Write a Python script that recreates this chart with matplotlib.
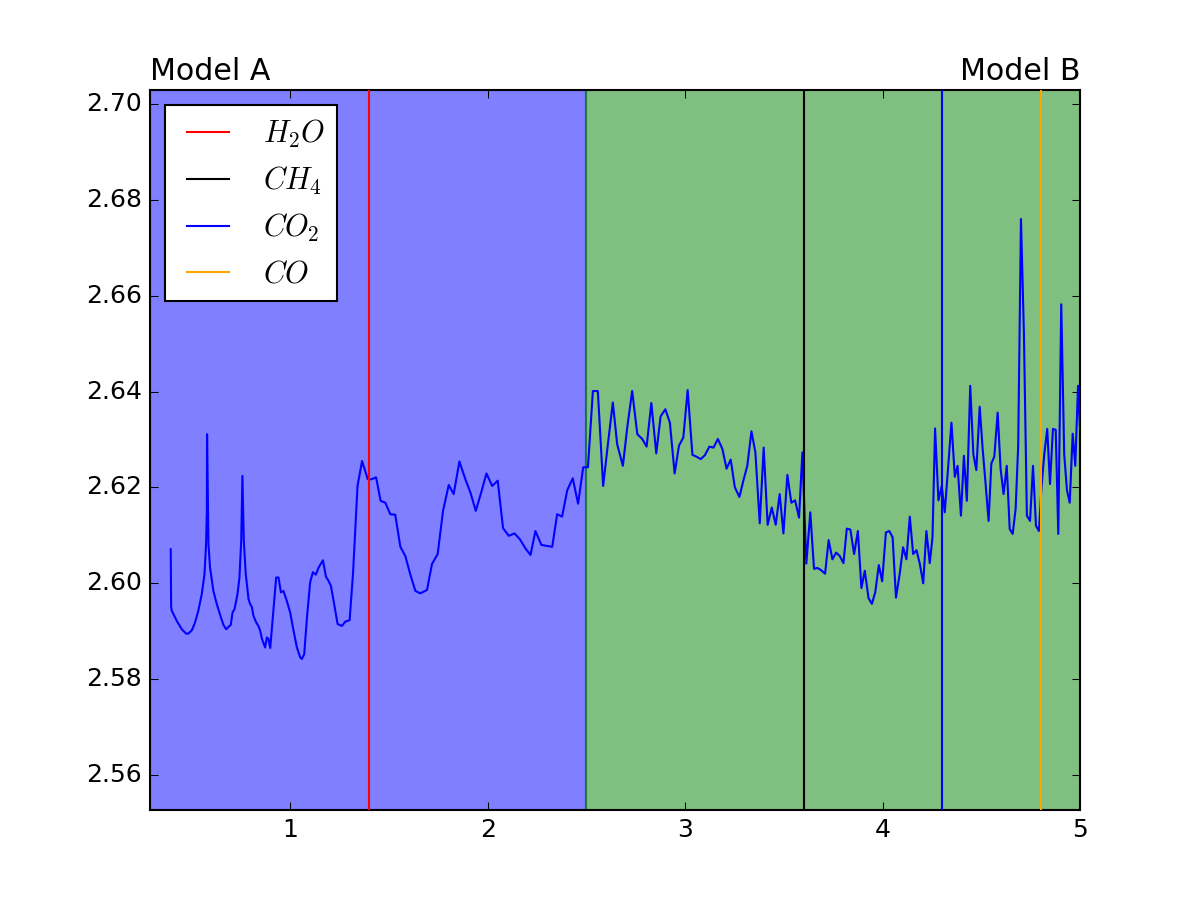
import matplotlib
matplotlib.use("Agg")
import matplotlib.pyplot as plt

plt.style.use('classic')

wavelength = [0.395, 0.397, 0.400, 0.425, 0.451, 0.473, 0.484, 0.502, 0.518, 0.535, 0.552,
              0.566, 0.574, 0.578, 0.579, 0.586, 0.594, 0.611, 0.628, 0.649, 0.662, 0.676,
              0.687, 0.699, 0.708, 0.718, 0.733, 0.743, 0.752, 0.758, 0.765, 0.775, 0.789,
              0.797, 0.806, 0.814, 0.828, 0.839, 0.848, 0.857, 0.873, 0.882, 0.890, 0.899,
              0.929, 0.941, 0.953, 0.966, 0.983, 1.000, 1.017, 1.034, 1.051, 1.059, 1.071,
              1.085, 1.101, 1.115, 1.130, 1.144, 1.166, 1.181, 1.194, 1.206, 1.220, 1.240,
              1.262, 1.279, 1.301, 1.318, 1.341, 1.364, 1.393, 1.412, 1.435, 1.458, 1.482,
              1.507, 1.532, 1.558, 1.583, 1.608, 1.634, 1.659, 1.693, 1.718, 1.747, 1.774,
              1.803, 1.828, 1.857, 1.887, 1.913, 1.940, 1.967, 1.994, 2.023, 2.051, 2.078,
              2.107, 2.136, 2.163, 2.191, 2.217, 2.242, 2.272, 2.301, 2.327, 2.352, 2.377,
              2.403, 2.431, 2.458, 2.484, 2.508, 2.533, 2.558, 2.585, 2.609, 2.634, 2.656,
              2.685, 2.707, 2.732, 2.758, 2.783, 2.805, 2.829, 2.854, 2.876, 2.900, 2.923,
              2.947, 2.969, 2.991, 3.013, 3.037, 3.058, 3.079, 3.100, 3.123, 3.144, 3.166,
              3.189, 3.210, 3.231, 3.252, 3.275, 3.295, 3.315, 3.336, 3.356, 3.378, 3.398,
              3.418, 3.439, 3.459, 3.479, 3.498, 3.518, 3.538, 3.557, 3.577, 3.594, 3.614,
              3.634, 3.653, 3.670, 3.690, 3.709, 3.727, 3.746, 3.765, 3.783, 3.802, 3.819,
              3.837, 3.856, 3.875, 3.893, 3.910, 3.929, 3.946, 3.963, 3.981, 3.998, 4.017,
              4.034, 4.051, 4.068, 4.087, 4.104, 4.121, 4.138, 4.155, 4.172, 4.189, 4.206,
              4.222, 4.239, 4.253, 4.266, 4.283, 4.300, 4.315, 4.332, 4.349, 4.366, 4.380,
              4.397, 4.412, 4.427, 4.444, 4.460, 4.475, 4.492, 4.507, 4.522, 4.537, 4.551,
              4.566, 4.583, 4.598, 4.613, 4.629, 4.644, 4.659, 4.674, 4.687, 4.701, 4.716,
              4.731, 4.747, 4.762, 4.777, 4.792, 4.805, 4.819, 4.834, 4.848, 4.863, 4.877,
              4.890, 4.905, 4.920, 4.934, 4.948, 4.963, 4.976, 4.990, 5.000]

radius = [2.6071, 2.5951, 2.5943, 2.5922, 2.5904, 2.5895, 2.5895, 2.5902, 2.5918, 2.5943, 2.5977,
          2.6019, 2.6082, 2.6151, 2.6311, 2.6082, 2.6033, 2.5984, 2.5957, 2.5929, 2.5913, 2.5904,
          2.5909, 2.5913, 2.5939, 2.5946, 2.5977, 2.6012, 2.6089, 2.6224, 2.6089, 2.6019, 2.5967,
          2.5957, 2.5950, 2.5932, 2.5918, 2.5911, 2.5901, 2.5884, 2.5866, 2.5887, 2.5884, 2.5865,
          2.6012, 2.6012, 2.5981, 2.5984, 2.5963, 2.5939, 2.5901, 2.5866, 2.5845, 2.5842, 2.5852,
          2.5929, 2.6002, 2.6023, 2.6018, 2.6033, 2.6048, 2.6014, 2.6005, 2.5995, 2.5963, 2.5915,
          2.5911, 2.5920, 2.5923, 2.6019, 2.6203, 2.6255, 2.6217, 2.6217, 2.6221, 2.6172, 2.6168,
          2.6144, 2.6143, 2.6076, 2.6057, 2.6019, 2.5984, 2.5979, 2.5986, 2.6040, 2.6061, 2.6151,
          2.6205, 2.6186, 2.6254, 2.6217, 2.6189, 2.6151, 2.6189, 2.6229, 2.6203, 2.6214, 2.6115,
          2.6099, 2.6104, 2.6092, 2.6073, 2.6059, 2.6109, 2.6080, 2.6078, 2.6076, 2.6144, 2.6139,
          2.6194, 2.6219, 2.6166, 2.6242, 2.6242, 2.6401, 2.6401, 2.6203, 2.6290, 2.6377, 2.6290,
          2.6245, 2.6325, 2.6401, 2.6311, 2.6301, 2.6285, 2.6376, 2.6271, 2.6348, 2.6363, 2.6335,
          2.6229, 2.6287, 2.6304, 2.6403, 2.6268, 2.6264, 2.6259, 2.6267, 2.6285, 2.6283, 2.6301,
          2.6280, 2.6239, 2.6258, 2.6200, 2.6180, 2.6214, 2.6245, 2.6317, 2.6273, 2.6125, 2.6283,
          2.6122, 2.6158, 2.6122, 2.6186, 2.6104, 2.6226, 2.6168, 2.6173, 2.6137, 2.6273, 2.6041,
          2.6148, 2.6030, 2.6032, 2.6027, 2.6020, 2.6090, 2.6050, 2.6064, 2.6057, 2.6042, 2.6114,
          2.6112, 2.6061, 2.6109, 2.5990, 2.6026, 2.5969, 2.5957, 2.5981, 2.6038, 2.6004, 2.6106,
          2.6109, 2.6096, 2.5970, 2.6020, 2.6075, 2.6050, 2.6139, 2.6061, 2.6069, 2.6040, 2.6000,
          2.6109, 2.6042, 2.6096, 2.6323, 2.6173, 2.6203, 2.6148, 2.6242, 2.6335, 2.6222, 2.6245,
          2.6141, 2.6266, 2.6172, 2.6412, 2.6269, 2.6236, 2.6368, 2.6280, 2.6207, 2.6130, 2.6250,
          2.6264, 2.6356, 2.6238, 2.6186, 2.6245, 2.6113, 2.6103, 2.6155, 2.6287, 2.6760, 2.6520,
          2.6141, 2.6130, 2.6245, 2.6120, 2.6109, 2.6200, 2.6269, 2.6322, 2.6207, 2.6322, 2.6320,
          2.6103, 2.6582, 2.6269, 2.6194, 2.6168, 2.6312, 2.6245, 2.6412, 2.6320]

molecules = [r'$H_2O$', r'$CH_4$', r'$CO_2$', r'$CO$']
molecule_wavelengths = [1.4, 3.6, 4.3, 4.8]
molecule_colors = ['red', 'black', 'blue', 'orange']

regions = [(0.29, 2.5), (2.5, 5.0)]
region_colors = ['blue', 'green']
region_titles = ['Model A', 'Model B']

fig = plt.figure(figsize=(8, 6), dpi=150)
ax = fig.add_subplot(111)

for (x0, x1), c in zip(regions, region_colors):
    ax.axvspan(x0, x1, color=c, alpha=0.5)

ax.plot(wavelength, radius, color='blue', zorder=3)

for name, wl, c in zip(molecules, molecule_wavelengths, molecule_colors):
    ax.axvline(wl, color=c, label=name, zorder=4)

ax.set_xlim(0.29, 5.0)
ax.set_ylim(2.5527, 2.7029)
ax.yaxis.get_major_formatter().set_useOffset(False)

ax.set_title(region_titles[0], loc='left')
ax.set_title(region_titles[1], loc='right')

ax.legend(loc='upper left', fontsize=14.6)

fig.savefig('out.png', dpi=150)
